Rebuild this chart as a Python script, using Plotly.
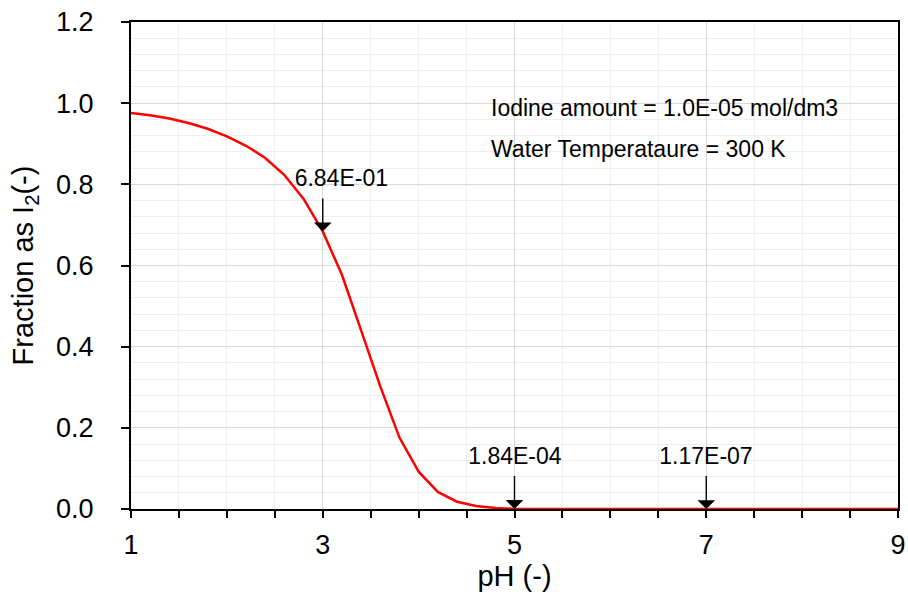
import plotly.graph_objects as go

# ---- data ----
ph = [1.0, 1.2, 1.4, 1.6, 1.8, 2.0, 2.2, 2.4, 2.6, 2.8, 3.0, 3.2, 3.4, 3.6, 3.8,
      4.0, 4.2, 4.4, 4.6, 4.8, 5.0, 5.2, 5.4, 5.6, 5.8, 6.0, 6.2, 6.4, 6.6, 6.8,
      7.0, 7.2, 7.4, 7.6, 7.8, 8.0, 8.2, 8.4, 8.6, 8.8, 9.0]
fraction_i2 = [0.976, 0.970, 0.962, 0.951, 0.937, 0.918, 0.895, 0.865, 0.823, 0.764,
               0.684, 0.577, 0.440, 0.302, 0.176, 0.092, 0.042, 0.018, 0.0072, 0.0025,
               1.84e-4, 8.5e-5, 4.0e-5, 1.9e-5, 8.8e-6, 4.2e-6, 2.0e-6, 9.6e-7, 4.7e-7,
               2.4e-7, 1.17e-7, 6.0e-8, 3.0e-8, 1.5e-8, 8.0e-9, 4.0e-9, 2.0e-9, 1.0e-9,
               5.0e-10, 3.0e-10, 1.5e-10]

mark_ph = [3, 5, 7]
mark_val = [0.684, 1.84e-4, 1.17e-7]
mark_labels = ["6.84E-01", "1.84E-04", "1.17E-07"]
mark_boxwidth = [130, 100, 100]
mark_align = ["right", "center", "center"]

info_lines = ["Iodine amount = 1.0E-05 mol/dm3", "Water Temperataure = 300 K"]

x_ticks = [1, 3, 5, 7, 9]
y_ticks = [0.0, 0.2, 0.4, 0.6, 0.8, 1.0, 1.2]

FONT = "Liberation Sans, Arial, sans-serif"

fig = go.Figure()
fig.add_trace(go.Scatter(x=ph, y=fraction_i2, mode="lines",
                         line=dict(color="#ff0000", width=2.5),
                         showlegend=False, hoverinfo="skip"))

W, H = 908, 603
L, R, T, B = 131, 10, 22, 94
pw, ph_px = W - L - R, H - T - B

def px_to_paper(xp, yp):
    return (xp - L) / pw, (H - B - yp) / ph_px

# info box (white background)
x0, y0 = px_to_paper(483, 183)
x1, y1 = px_to_paper(870, 83)
fig.add_shape(type="rect", xref="paper", yref="paper", x0=x0, x1=x1, y0=y0, y1=y1,
              fillcolor="white", line=dict(width=0), layer="below")

annotations = []
for i, line in enumerate(info_lines):
    xa, ya = px_to_paper(489, [108, 149][i])
    annotations.append(dict(xref="paper", yref="paper", x=xa, y=ya, text=line,
                            showarrow=False, xanchor="left", yanchor="middle",
                            font=dict(family=FONT, size=23, color="black")))

for xv, yv, lab, bw, al in zip(mark_ph, mark_val, mark_labels, mark_boxwidth, mark_align):
    annotations.append(dict(xref="x", yref="y", x=xv, y=yv, text=lab,
                            showarrow=True, ax=0, ay=-33, axref="pixel", ayref="pixel",
                            arrowhead=1, arrowsize=2.1, arrowwidth=1.4,
                            arrowcolor="black", xanchor="center", yanchor="bottom",
                            width=bw, align=al, borderpad=6,
                            font=dict(family=FONT, size=23, color="black")))

fig.update_layout(
    width=W, height=H,
    margin=dict(l=L, r=R, t=T, b=B, pad=0, autoexpand=False),
    paper_bgcolor="white", plot_bgcolor="white",
    font=dict(family=FONT, size=27, color="black"),
    annotations=annotations,
)

fig.update_xaxes(
    range=[1, 9], tickvals=x_ticks, ticktext=[str(v) for v in x_ticks],
    showline=True, linecolor="black", linewidth=2, mirror=True,
    ticks="outside", ticklen=7, tickwidth=2, tickcolor="black",
    showgrid=True, gridcolor="#d9d9d9", gridwidth=1, zeroline=False,
    minor=dict(dtick=0.5, tick0=1, showgrid=True, gridcolor="#efefef", gridwidth=1,
               ticks="outside", ticklen=7, tickwidth=2, tickcolor="black"),
    tickfont=dict(family=FONT, size=27, color="black"),
    ticklabelstandoff=4, automargin=False,
    title=dict(text="pH (-)", font=dict(family=FONT, size=29, color="black"), standoff=4),
)
fig.update_yaxes(
    range=[0, 1.2], tickvals=y_ticks, ticktext=["%.1f" % v for v in y_ticks],
    showline=True, linecolor="black", linewidth=2, mirror=True,
    ticks="outside", ticklen=8, tickwidth=2, tickcolor="black",
    showgrid=True, gridcolor="#d9d9d9", gridwidth=1, zeroline=False,
    minor=dict(dtick=0.04, tick0=0, showgrid=True, gridcolor="#efefef", gridwidth=1),
    tickfont=dict(family=FONT, size=27, color="black"),
    ticklabelstandoff=22, automargin=False,
    title=dict(text="Fraction as I<sub>2</sub>(-)", font=dict(family=FONT, size=29, color="black"),
               standoff=14),
)

fig.write_html("out.html")
